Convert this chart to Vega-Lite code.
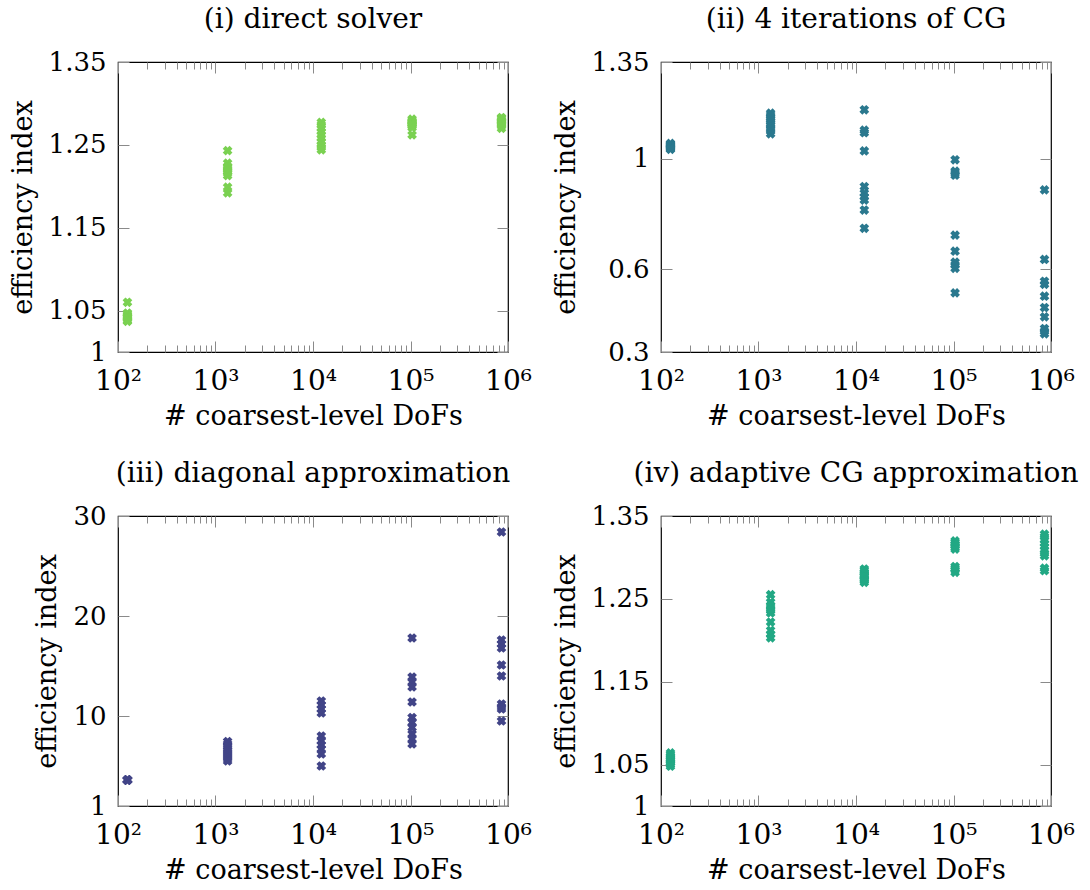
{
  "$schema": "https://vega.github.io/schema/vega-lite/v6.json",
  "padding": {"left": 8, "top": 5, "right": 5, "bottom": 5},
  "columns": 2,
  "spacing": {"row": 164, "column": 153},
  "bounds": "flush",
  "config": {
    "view": {"stroke": "#000000", "strokeWidth": 1.2},
    "font": "DejaVu Serif",
    "axis": {"grid": false, "domain": false, "tickColor": "#8a8a8a", "tickWidth": 1, "labelFont": "DejaVu Serif", "labelFontSize": 28, "labelColor": "#000000", "titleFont": "DejaVu Serif", "titleFontSize": 27, "titleFontWeight": "normal", "titleColor": "#000000", "labelFlush": false, "labelOverlap": false},
    "axisY": {"labelFontSize": 26},
    "title": {"font": "DejaVu Serif", "fontSize": 28, "fontWeight": "normal", "color": "#000000", "offset": 15}
  },
  "concat": [
    {
      "title": "(i) direct solver",
      "width": 390, "height": 290,
      "data": {"values": [
        {"dofs":125,"eff":1.060},{"dofs":125,"eff":1.047},{"dofs":125,"eff":1.046},{"dofs":125,"eff":1.044},{"dofs":125,"eff":1.043},{"dofs":125,"eff":1.042},{"dofs":125,"eff":1.041},{"dofs":125,"eff":1.040},{"dofs":125,"eff":1.038},{"dofs":125,"eff":1.037},
        {"dofs":1331,"eff":1.243},{"dofs":1331,"eff":1.228},{"dofs":1331,"eff":1.224},{"dofs":1331,"eff":1.222},{"dofs":1331,"eff":1.220},{"dofs":1331,"eff":1.218},{"dofs":1331,"eff":1.216},{"dofs":1331,"eff":1.213},{"dofs":1331,"eff":1.199},{"dofs":1331,"eff":1.192},
        {"dofs":12167,"eff":1.277},{"dofs":12167,"eff":1.274},{"dofs":12167,"eff":1.270},{"dofs":12167,"eff":1.266},{"dofs":12167,"eff":1.262},{"dofs":12167,"eff":1.258},{"dofs":12167,"eff":1.254},{"dofs":12167,"eff":1.250},{"dofs":12167,"eff":1.247},{"dofs":12167,"eff":1.244},
        {"dofs":103823,"eff":1.281},{"dofs":103823,"eff":1.279},{"dofs":103823,"eff":1.278},{"dofs":103823,"eff":1.277},{"dofs":103823,"eff":1.276},{"dofs":103823,"eff":1.275},{"dofs":103823,"eff":1.274},{"dofs":103823,"eff":1.273},{"dofs":103823,"eff":1.271},{"dofs":103823,"eff":1.262},
        {"dofs":857375,"eff":1.283},{"dofs":857375,"eff":1.282},{"dofs":857375,"eff":1.280},{"dofs":857375,"eff":1.279},{"dofs":857375,"eff":1.278},{"dofs":857375,"eff":1.277},{"dofs":857375,"eff":1.276},{"dofs":857375,"eff":1.275},{"dofs":857375,"eff":1.273},{"dofs":857375,"eff":1.270}
      ]},
      "resolve": {"axis": {"x": "independent", "y": "independent"}},
      "layer": [
        {
          "mark": {"type": "point", "shape": "M-1,-0.4L-0.4,-1L0,-0.6L0.4,-1L1,-0.4L0.6,0L1,0.4L0.4,1L0,0.6L-0.4,1L-1,0.4L-0.6,0Z", "filled": true, "size": 95, "color": "#7AD151", "opacity": 1},
          "encoding": {
            "x": {"field": "dofs", "type": "quantitative", "scale": {"type": "log", "domain": [100, 1000000], "nice": false},
                  "axis": {"orient": "bottom", "values": [100, 1000, 10000, 100000, 1000000], "tickSize": -11, "labelPadding": 26, "labelExpr": "datum.value == 100 ? '10²' : datum.value == 1000 ? '10³' : datum.value == 10000 ? '10⁴' : datum.value == 100000 ? '10⁵' : '10⁶'", "title": "# coarsest-level DoFs", "titlePadding": 8}},
            "y": {"field": "eff", "type": "quantitative", "scale": {"domain": [1, 1.35], "nice": false, "zero": false},
                  "axis": {"orient": "left", "values": [1, 1.05, 1.15, 1.25, 1.35], "format": ".2~f", "tickSize": -11, "labelPadding": 23, "title": "efficiency index", "titlePadding": 11}}
          }
        },
        {
          "mark": {"type": "point", "opacity": 0},
          "encoding": {
            "x": {"field": "dofs", "type": "quantitative", "axis": {"orient": "bottom", "values": [200,300,400,500,600,700,800,900,2000,3000,4000,5000,6000,7000,8000,9000,20000,30000,40000,50000,60000,70000,80000,90000,200000,300000,400000,500000,600000,700000,800000,900000], "tickSize": -7, "labels": false, "title": null}},
            "y": {"field": "eff", "type": "quantitative", "axis": {"orient": "right", "values": [1, 1.05, 1.15, 1.25, 1.35], "tickSize": -11, "labels": false, "title": null}}
          }
        },
        {
          "mark": {"type": "point", "opacity": 0},
          "encoding": {
            "x": {"field": "dofs", "type": "quantitative", "axis": {"orient": "top", "values": [100, 1000, 10000, 100000, 1000000], "tickSize": -11, "labels": false, "title": null}},
            "y": {"field": "eff", "type": "quantitative", "axis": null}
          }
        },
        {
          "mark": {"type": "point", "opacity": 0},
          "encoding": {
            "x": {"field": "dofs", "type": "quantitative", "axis": {"orient": "top", "values": [200,300,400,500,600,700,800,900,2000,3000,4000,5000,6000,7000,8000,9000,20000,30000,40000,50000,60000,70000,80000,90000,200000,300000,400000,500000,600000,700000,800000,900000], "tickSize": -7, "labels": false, "title": null}},
            "y": {"field": "eff", "type": "quantitative", "axis": null}
          }
        }
      ]
    },
    {
      "title": "(ii) 4 iterations of CG",
      "width": 390, "height": 290,
      "data": {"values": [
        {"dofs":125,"eff":1.055},{"dofs":125,"eff":1.052},{"dofs":125,"eff":1.050},{"dofs":125,"eff":1.048},{"dofs":125,"eff":1.046},{"dofs":125,"eff":1.044},{"dofs":125,"eff":1.042},{"dofs":125,"eff":1.040},{"dofs":125,"eff":1.037},{"dofs":125,"eff":1.034},
        {"dofs":1331,"eff":1.165},{"dofs":1331,"eff":1.158},{"dofs":1331,"eff":1.150},{"dofs":1331,"eff":1.143},{"dofs":1331,"eff":1.136},{"dofs":1331,"eff":1.128},{"dofs":1331,"eff":1.120},{"dofs":1331,"eff":1.110},{"dofs":1331,"eff":1.100},{"dofs":1331,"eff":1.090},
        {"dofs":12167,"eff":1.177},{"dofs":12167,"eff":1.103},{"dofs":12167,"eff":1.094},{"dofs":12167,"eff":1.028},{"dofs":12167,"eff":0.899},{"dofs":12167,"eff":0.875},{"dofs":12167,"eff":0.862},{"dofs":12167,"eff":0.850},{"dofs":12167,"eff":0.814},{"dofs":12167,"eff":0.748},
        {"dofs":103823,"eff":0.996},{"dofs":103823,"eff":0.955},{"dofs":103823,"eff":0.948},{"dofs":103823,"eff":0.940},{"dofs":103823,"eff":0.723},{"dofs":103823,"eff":0.665},{"dofs":103823,"eff":0.625},{"dofs":103823,"eff":0.615},{"dofs":103823,"eff":0.603},{"dofs":103823,"eff":0.514},
        {"dofs":857375,"eff":0.887},{"dofs":857375,"eff":0.635},{"dofs":857375,"eff":0.556},{"dofs":857375,"eff":0.545},{"dofs":857375,"eff":0.502},{"dofs":857375,"eff":0.461},{"dofs":857375,"eff":0.427},{"dofs":857375,"eff":0.385},{"dofs":857375,"eff":0.375},{"dofs":857375,"eff":0.366}
      ]},
      "resolve": {"axis": {"x": "independent", "y": "independent"}},
      "layer": [
        {
          "mark": {"type": "point", "shape": "M-1,-0.4L-0.4,-1L0,-0.6L0.4,-1L1,-0.4L0.6,0L1,0.4L0.4,1L0,0.6L-0.4,1L-1,0.4L-0.6,0Z", "filled": true, "size": 95, "color": "#2A788E", "opacity": 1},
          "encoding": {
            "x": {"field": "dofs", "type": "quantitative", "scale": {"type": "log", "domain": [100, 1000000], "nice": false},
                  "axis": {"orient": "bottom", "values": [100, 1000, 10000, 100000, 1000000], "tickSize": -11, "labelPadding": 26, "labelExpr": "datum.value == 100 ? '10²' : datum.value == 1000 ? '10³' : datum.value == 10000 ? '10⁴' : datum.value == 100000 ? '10⁵' : '10⁶'", "title": "# coarsest-level DoFs", "titlePadding": 8}},
            "y": {"field": "eff", "type": "quantitative", "scale": {"domain": [0.3, 1.35], "nice": false, "zero": false},
                  "axis": {"orient": "left", "values": [0.3, 0.6, 1, 1.35], "format": ".2~f", "tickSize": -11, "labelPadding": 23, "title": "efficiency index", "titlePadding": 11}}
          }
        },
        {
          "mark": {"type": "point", "opacity": 0},
          "encoding": {
            "x": {"field": "dofs", "type": "quantitative", "axis": {"orient": "bottom", "values": [200,300,400,500,600,700,800,900,2000,3000,4000,5000,6000,7000,8000,9000,20000,30000,40000,50000,60000,70000,80000,90000,200000,300000,400000,500000,600000,700000,800000,900000], "tickSize": -7, "labels": false, "title": null}},
            "y": {"field": "eff", "type": "quantitative", "axis": {"orient": "right", "values": [0.3, 0.6, 1, 1.35], "tickSize": -11, "labels": false, "title": null}}
          }
        },
        {
          "mark": {"type": "point", "opacity": 0},
          "encoding": {
            "x": {"field": "dofs", "type": "quantitative", "axis": {"orient": "top", "values": [100, 1000, 10000, 100000, 1000000], "tickSize": -11, "labels": false, "title": null}},
            "y": {"field": "eff", "type": "quantitative", "axis": null}
          }
        },
        {
          "mark": {"type": "point", "opacity": 0},
          "encoding": {
            "x": {"field": "dofs", "type": "quantitative", "axis": {"orient": "top", "values": [200,300,400,500,600,700,800,900,2000,3000,4000,5000,6000,7000,8000,9000,20000,30000,40000,50000,60000,70000,80000,90000,200000,300000,400000,500000,600000,700000,800000,900000], "tickSize": -7, "labels": false, "title": null}},
            "y": {"field": "eff", "type": "quantitative", "axis": null}
          }
        }
      ]
    },
    {
      "title": "(iii) diagonal approximation",
      "width": 390, "height": 290,
      "data": {"values": [
        {"dofs":125,"eff":3.62},{"dofs":125,"eff":3.61},{"dofs":125,"eff":3.60},{"dofs":125,"eff":3.60},{"dofs":125,"eff":3.59},{"dofs":125,"eff":3.58},{"dofs":125,"eff":3.62},{"dofs":125,"eff":3.61},{"dofs":125,"eff":3.60},{"dofs":125,"eff":3.59},
        {"dofs":1331,"eff":7.45},{"dofs":1331,"eff":7.2},{"dofs":1331,"eff":6.95},{"dofs":1331,"eff":6.7},{"dofs":1331,"eff":6.5},{"dofs":1331,"eff":6.3},{"dofs":1331,"eff":6.1},{"dofs":1331,"eff":5.9},{"dofs":1331,"eff":5.7},{"dofs":1331,"eff":5.5},
        {"dofs":12167,"eff":11.5},{"dofs":12167,"eff":11.1},{"dofs":12167,"eff":10.7},{"dofs":12167,"eff":10.3},{"dofs":12167,"eff":8.0},{"dofs":12167,"eff":7.5},{"dofs":12167,"eff":7.1},{"dofs":12167,"eff":6.7},{"dofs":12167,"eff":6.2},{"dofs":12167,"eff":5.0},
        {"dofs":103823,"eff":17.8},{"dofs":103823,"eff":13.9},{"dofs":103823,"eff":13.4},{"dofs":103823,"eff":12.9},{"dofs":103823,"eff":11.4},{"dofs":103823,"eff":9.85},{"dofs":103823,"eff":9.35},{"dofs":103823,"eff":8.85},{"dofs":103823,"eff":8.2},{"dofs":103823,"eff":7.7},{"dofs":103823,"eff":7.2},
        {"dofs":857375,"eff":28.4},{"dofs":857375,"eff":17.6},{"dofs":857375,"eff":17.2},{"dofs":857375,"eff":16.8},{"dofs":857375,"eff":15.1},{"dofs":857375,"eff":14.0},{"dofs":857375,"eff":11.2},{"dofs":857375,"eff":10.9},{"dofs":857375,"eff":10.7},{"dofs":857375,"eff":9.5}
      ]},
      "resolve": {"axis": {"x": "independent", "y": "independent"}},
      "layer": [
        {
          "mark": {"type": "point", "shape": "M-1,-0.4L-0.4,-1L0,-0.6L0.4,-1L1,-0.4L0.6,0L1,0.4L0.4,1L0,0.6L-0.4,1L-1,0.4L-0.6,0Z", "filled": true, "size": 95, "color": "#414487", "opacity": 1},
          "encoding": {
            "x": {"field": "dofs", "type": "quantitative", "scale": {"type": "log", "domain": [100, 1000000], "nice": false},
                  "axis": {"orient": "bottom", "values": [100, 1000, 10000, 100000, 1000000], "tickSize": -11, "labelPadding": 26, "labelExpr": "datum.value == 100 ? '10²' : datum.value == 1000 ? '10³' : datum.value == 10000 ? '10⁴' : datum.value == 100000 ? '10⁵' : '10⁶'", "title": "# coarsest-level DoFs", "titlePadding": 8}},
            "y": {"field": "eff", "type": "quantitative", "scale": {"domain": [1, 30], "nice": false, "zero": false},
                  "axis": {"orient": "left", "values": [1, 10, 20, 30], "format": ".2~f", "tickSize": -11, "labelPadding": 23, "title": "efficiency index", "titlePadding": 11}}
          }
        },
        {
          "mark": {"type": "point", "opacity": 0},
          "encoding": {
            "x": {"field": "dofs", "type": "quantitative", "axis": {"orient": "bottom", "values": [200,300,400,500,600,700,800,900,2000,3000,4000,5000,6000,7000,8000,9000,20000,30000,40000,50000,60000,70000,80000,90000,200000,300000,400000,500000,600000,700000,800000,900000], "tickSize": -7, "labels": false, "title": null}},
            "y": {"field": "eff", "type": "quantitative", "axis": {"orient": "right", "values": [1, 10, 20, 30], "tickSize": -11, "labels": false, "title": null}}
          }
        },
        {
          "mark": {"type": "point", "opacity": 0},
          "encoding": {
            "x": {"field": "dofs", "type": "quantitative", "axis": {"orient": "top", "values": [100, 1000, 10000, 100000, 1000000], "tickSize": -11, "labels": false, "title": null}},
            "y": {"field": "eff", "type": "quantitative", "axis": null}
          }
        },
        {
          "mark": {"type": "point", "opacity": 0},
          "encoding": {
            "x": {"field": "dofs", "type": "quantitative", "axis": {"orient": "top", "values": [200,300,400,500,600,700,800,900,2000,3000,4000,5000,6000,7000,8000,9000,20000,30000,40000,50000,60000,70000,80000,90000,200000,300000,400000,500000,600000,700000,800000,900000], "tickSize": -7, "labels": false, "title": null}},
            "y": {"field": "eff", "type": "quantitative", "axis": null}
          }
        }
      ]
    },
    {
      "title": "(iv) adaptive CG approximation",
      "width": 390, "height": 290,
      "data": {"values": [
        {"dofs":125,"eff":1.064},{"dofs":125,"eff":1.062},{"dofs":125,"eff":1.060},{"dofs":125,"eff":1.058},{"dofs":125,"eff":1.056},{"dofs":125,"eff":1.055},{"dofs":125,"eff":1.053},{"dofs":125,"eff":1.052},{"dofs":125,"eff":1.050},{"dofs":125,"eff":1.048},
        {"dofs":1331,"eff":1.255},{"dofs":1331,"eff":1.246},{"dofs":1331,"eff":1.242},{"dofs":1331,"eff":1.239},{"dofs":1331,"eff":1.236},{"dofs":1331,"eff":1.233},{"dofs":1331,"eff":1.222},{"dofs":1331,"eff":1.212},{"dofs":1331,"eff":1.207},{"dofs":1331,"eff":1.203},
        {"dofs":12167,"eff":1.286},{"dofs":12167,"eff":1.284},{"dofs":12167,"eff":1.282},{"dofs":12167,"eff":1.280},{"dofs":12167,"eff":1.278},{"dofs":12167,"eff":1.277},{"dofs":12167,"eff":1.275},{"dofs":12167,"eff":1.273},{"dofs":12167,"eff":1.272},{"dofs":12167,"eff":1.270},
        {"dofs":103823,"eff":1.320},{"dofs":103823,"eff":1.318},{"dofs":103823,"eff":1.316},{"dofs":103823,"eff":1.314},{"dofs":103823,"eff":1.312},{"dofs":103823,"eff":1.310},{"dofs":103823,"eff":1.289},{"dofs":103823,"eff":1.287},{"dofs":103823,"eff":1.285},{"dofs":103823,"eff":1.282},
        {"dofs":857375,"eff":1.328},{"dofs":857375,"eff":1.325},{"dofs":857375,"eff":1.321},{"dofs":857375,"eff":1.317},{"dofs":857375,"eff":1.313},{"dofs":857375,"eff":1.309},{"dofs":857375,"eff":1.305},{"dofs":857375,"eff":1.302},{"dofs":857375,"eff":1.287},{"dofs":857375,"eff":1.284}
      ]},
      "resolve": {"axis": {"x": "independent", "y": "independent"}},
      "layer": [
        {
          "mark": {"type": "point", "shape": "M-1,-0.4L-0.4,-1L0,-0.6L0.4,-1L1,-0.4L0.6,0L1,0.4L0.4,1L0,0.6L-0.4,1L-1,0.4L-0.6,0Z", "filled": true, "size": 95, "color": "#22A884", "opacity": 1},
          "encoding": {
            "x": {"field": "dofs", "type": "quantitative", "scale": {"type": "log", "domain": [100, 1000000], "nice": false},
                  "axis": {"orient": "bottom", "values": [100, 1000, 10000, 100000, 1000000], "tickSize": -11, "labelPadding": 26, "labelExpr": "datum.value == 100 ? '10²' : datum.value == 1000 ? '10³' : datum.value == 10000 ? '10⁴' : datum.value == 100000 ? '10⁵' : '10⁶'", "title": "# coarsest-level DoFs", "titlePadding": 8}},
            "y": {"field": "eff", "type": "quantitative", "scale": {"domain": [1, 1.35], "nice": false, "zero": false},
                  "axis": {"orient": "left", "values": [1, 1.05, 1.15, 1.25, 1.35], "format": ".2~f", "tickSize": -11, "labelPadding": 23, "title": "efficiency index", "titlePadding": 11}}
          }
        },
        {
          "mark": {"type": "point", "opacity": 0},
          "encoding": {
            "x": {"field": "dofs", "type": "quantitative", "axis": {"orient": "bottom", "values": [200,300,400,500,600,700,800,900,2000,3000,4000,5000,6000,7000,8000,9000,20000,30000,40000,50000,60000,70000,80000,90000,200000,300000,400000,500000,600000,700000,800000,900000], "tickSize": -7, "labels": false, "title": null}},
            "y": {"field": "eff", "type": "quantitative", "axis": {"orient": "right", "values": [1, 1.05, 1.15, 1.25, 1.35], "tickSize": -11, "labels": false, "title": null}}
          }
        },
        {
          "mark": {"type": "point", "opacity": 0},
          "encoding": {
            "x": {"field": "dofs", "type": "quantitative", "axis": {"orient": "top", "values": [100, 1000, 10000, 100000, 1000000], "tickSize": -11, "labels": false, "title": null}},
            "y": {"field": "eff", "type": "quantitative", "axis": null}
          }
        },
        {
          "mark": {"type": "point", "opacity": 0},
          "encoding": {
            "x": {"field": "dofs", "type": "quantitative", "axis": {"orient": "top", "values": [200,300,400,500,600,700,800,900,2000,3000,4000,5000,6000,7000,8000,9000,20000,30000,40000,50000,60000,70000,80000,90000,200000,300000,400000,500000,600000,700000,800000,900000], "tickSize": -7, "labels": false, "title": null}},
            "y": {"field": "eff", "type": "quantitative", "axis": null}
          }
        }
      ]
    }
  ]
}
